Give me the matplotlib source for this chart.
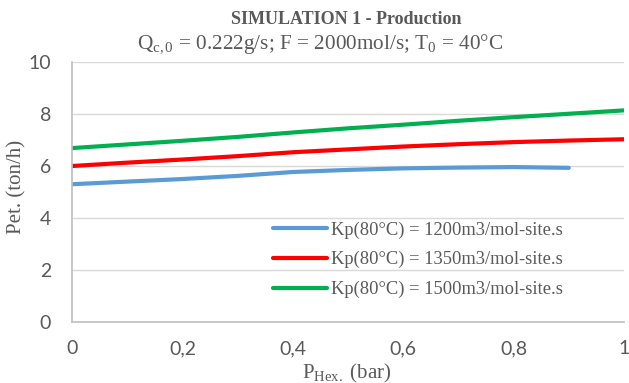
import matplotlib
matplotlib.use("Agg")
import matplotlib.pyplot as plt

# Données
p_hex = [0.0, 0.1, 0.2, 0.3, 0.4, 0.5, 0.6, 0.7, 0.8, 0.9, 1.0]
kp_1200 = [5.30, 5.40, 5.50, 5.62, 5.77, 5.85, 5.91, 5.94, 5.96, 5.93]
kp_1350 = [6.00, 6.13, 6.25, 6.38, 6.53, 6.64, 6.75, 6.84, 6.92, 6.98, 7.03]
kp_1500 = [6.69, 6.83, 6.97, 7.12, 7.29, 7.45, 7.59, 7.74, 7.88, 8.01, 8.14]

labels = ["Kp(80°C) = 1200m3/mol-site.s",
          "Kp(80°C) = 1350m3/mol-site.s",
          "Kp(80°C) = 1500m3/mol-site.s"]
colors = ["#5b9bd5", "#ff0000", "#00b050"]
x_ticks = [0, 0.2, 0.4, 0.6, 0.8, 1]
x_tick_labels = ["0", "0,2", "0,4", "0,6", "0,8", "1"]
y_ticks = [0, 2, 4, 6, 8, 10]

plt.rcParams['mathtext.fontset'] = 'custom'
plt.rcParams['mathtext.rm'] = 'Liberation Serif'
plt.rcParams['mathtext.it'] = 'Liberation Serif:italic'

serif = "Liberation Serif"
sans = "Lato"
grey = "#595959"

fig = plt.figure(figsize=(6.29, 3.83), dpi=100)
ax = fig.add_axes([0.1145, 0.1593, 0.8775, 0.6787])

series = [kp_1200, kp_1350, kp_1500]
for vals, lab, col in zip(series, labels, colors):
    ax.plot(p_hex[:len(vals)], vals, color=col, lw=3, label=lab,
            solid_capstyle="round")

ax.set_xlim(0, 1)
ax.set_ylim(0, 10)
ax.set_xticks(x_ticks)
ax.set_xticklabels(x_tick_labels)
ax.set_yticks(y_ticks)
ax.tick_params(length=0, labelsize=14, labelcolor=grey)
ax.tick_params(axis="x", pad=13)
ax.tick_params(axis="y", pad=15)
for lbl in ax.get_xticklabels() + ax.get_yticklabels():
    lbl.set_family(sans)

ax.grid(axis="y", color="#d9d9d9", lw=1)
ax.set_axisbelow(True)
for s in ["top", "right"]:
    ax.spines[s].set_visible(False)
for s in ["left", "bottom"]:
    ax.spines[s].set_color("#bfbfbf")
    ax.spines[s].set_linewidth(1.2)

ax.set_ylabel("Pet. (ton/h)", family=serif, fontsize=15, color=grey)
ax.yaxis.set_label_coords(-0.083, 0.521)
ax.set_xlabel(r"P$_{\mathrm{Hex.}}$ (bar)", family=serif, fontsize=15, color=grey)
ax.xaxis.set_label_coords(0.497, -0.152)

fig.text(0.55, 0.950, "SIMULATION 1 - Production", ha="center", va="center",
         family=serif, fontsize=13, fontweight="bold", color=grey)
fig.text(0.509, 0.885, r"Q$_{\mathrm{c,0}}$ = 0.222g/s; F = 2000mol/s; T$_{\mathrm{0}}$ = 40°C",
         ha="center", va="center", family=serif, fontsize=15.3, color=grey)

leg = ax.legend(loc="lower left", bbox_to_anchor=(0.334, 0.028), frameon=False,
                prop={"family": serif, "size": 13.3}, handlelength=2.9,
                handletextpad=0.25, labelspacing=0.67)
for t in leg.get_texts():
    t.set_color(grey)

fig.savefig("out.png", dpi=100)
